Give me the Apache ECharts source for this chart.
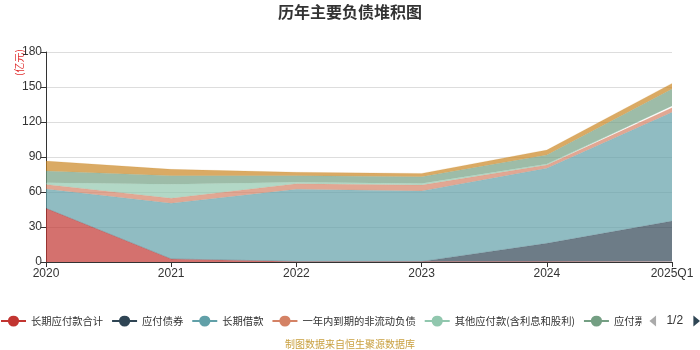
<!DOCTYPE html>
<html>
<head>
<meta charset="utf-8">
<script src="https://cdn.jsdelivr.net/npm/echarts@6/dist/echarts.min.js"></script>
<style>html,body{margin:0;padding:0;background:#fff;}#main{width:700px;height:350px;}</style>
</head>
<body>
<div id="main"></div>
<script>
var categories = ['2020', '2021', '2022', '2023', '2024', '2025Q1'];
var seriesNames = ['长期应付款合计', '应付债券', '长期借款', '一年内到期的非流动负债', '其他应付款(含利息和股利)', '应付票据及应付账款', '其他非流动负债'];
var longPayable = [46, 2.6, 0.5, 0.5, 0.5, 0.5];
var bondsPayable = [0, 0, 0, 0, 15.5, 34.6];
var longLoans = [16.5, 47.7, 61.8, 60.4, 64.3, 93.2];
var currentNonCurrent = [4, 4.3, 4.8, 5, 2.8, 4];
var otherPayables = [1.5, 12, 1.2, 1.4, 0.9, 1.4];
var notesPayable = [10, 7.4, 5.7, 5.7, 7.7, 14.6];
var otherNonCurrent = [8.5, 5.4, 2.9, 2.9, 4.3, 4.8];
var yTicks = [0, 30, 60, 90, 120, 150, 180];

var colors = ['#c23531', '#2f4554', '#61a0a8', '#d48265', '#91c7ae', '#749f83', '#ca8622'];
var dataList = [longPayable, bondsPayable, longLoans, currentNonCurrent, otherPayables, notesPayable, otherNonCurrent];

var chart = echarts.init(document.getElementById('main'));
var series = dataList.map(function (d, i) {
  return {
    name: seriesNames[i],
    type: 'line',
    stack: 'total',
    data: d,
    symbol: 'circle',
    symbolSize: 6,
    showSymbol: false,
    lineStyle: { width: 1, color: colors[i], opacity: 0.15 },
    itemStyle: { color: colors[i] },
    areaStyle: { color: colors[i], opacity: 0.7 }
  };
});

chart.setOption({
  animation: false,
  color: colors,
  title: {
    text: '历年主要负债堆积图',
    left: 'center',
    top: -1,
    textStyle: { fontSize: 16, fontWeight: 'bold', color: '#333', fontFamily: 'Noto Sans CJK SC' }
  },
  legend: {
    type: 'scroll',
    left: 0,
    right: 2,
    top: 315,
    padding: 0,
    itemGap: 8,
    itemWidth: 25,
    itemHeight: 14,
    lineStyle: { width: 2, opacity: 1 },
    textStyle: { fontSize: 10.3, color: '#333', fontFamily: 'Noto Sans CJK SC' },
    pageIconSize: 11,
    pageTextStyle: { fontSize: 12, color: '#333' },
    pageIconColor: '#2f4554',
    pageIconInactiveColor: '#aaa',
    data: seriesNames
  },
  grid: { left: 46, right: 28, top: 52, bottom: 88 },
  xAxis: {
    type: 'category',
    boundaryGap: false,
    data: categories,
    axisLine: { lineStyle: { color: '#333' } },
    axisTick: { show: true, lineStyle: { color: '#333' } },
    axisLabel: { color: '#333', fontSize: 12, margin: 6 }
  },
  yAxis: {
    type: 'value',
    min: 0,
    max: 180,
    interval: 30,
    axisLine: { show: true, lineStyle: { color: '#333' } },
    axisTick: { show: true, lineStyle: { color: '#333' } },
    axisLabel: { color: '#333', fontSize: 12, margin: 4 },
    splitLine: { lineStyle: { color: '#ddd' } }
  },
  graphic: [
    {
      type: 'text',
      x: 14,
      y: 76,
      rotation: Math.PI / 2,
      style: { text: '(亿元)', fill: '#e03030', fontSize: 10, fontFamily: 'Noto Sans CJK SC' }
    },
    {
      type: 'text',
      left: 'center',
      top: 339,
      style: { text: '制图数据来自恒生聚源数据库', fill: '#c9a040', fontSize: 10, fontFamily: 'Noto Sans CJK SC' }
    }
  ],
  series: series
});
</script>
</body>
</html>
